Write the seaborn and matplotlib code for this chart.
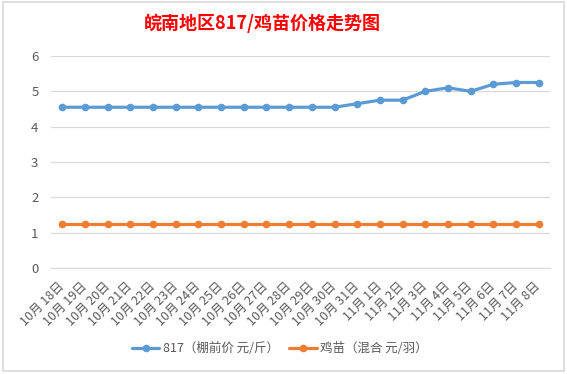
import pandas as pd
import seaborn as sns
import matplotlib.pyplot as plt
from matplotlib.patches import Rectangle
from matplotlib.ticker import FixedLocator

dates = ['10月 %d日' % d for d in range(18, 32)] + ['11月 %d日' % d for d in range(1, 9)]
price_817 = [4.55] * 13 + [4.65, 4.75, 4.75, 5.0, 5.1, 5.0, 5.2, 5.25, 5.25]
price_chick = [1.25] * 22
series_names = ['817（棚前价 元/斤）', '鸡苗（混合 元/羽）']

df = pd.concat([
    pd.DataFrame({'date': dates, 'price': price_817, 'series': series_names[0]}),
    pd.DataFrame({'date': dates, 'price': price_chick, 'series': series_names[1]}),
])

sns.set_style('white')
plt.rcParams['font.family'] = ['Noto Sans CJK SC', 'DejaVu Sans']

grey = '#595959'
grid = '#D9D9D9'

fig = plt.figure(figsize=(5.67, 3.74), dpi=100)
ax = fig.add_axes([51 / 567, 1 - 268 / 374, (550 - 51) / 567, (268 - 56) / 374])

sns.lineplot(data=df, x='date', y='price', hue='series', sort=False,
             palette=['#5B9BD5', '#ED7D31'], marker='o', markersize=5.5,
             markeredgewidth=0, linewidth=2.3, ax=ax, legend=True)

ax.set_xlim(-0.5, len(dates) - 0.5)
ax.set_ylim(0, 6)
ax.set_yticks(range(7))
ax.yaxis.grid(True, color=grid, linewidth=0.9)
ax.set_xlabel('')
ax.set_ylabel('')
for s in ['top', 'right', 'left']:
    ax.spines[s].set_visible(False)
ax.spines['bottom'].set_color(grid)
ax.spines['bottom'].set_linewidth(0.9)

ax.set_xticks(range(len(dates)))
ax.set_xticklabels(dates, rotation=45, ha='right', va='center', rotation_mode='anchor',
                   fontsize=9, color=grey)
ax.tick_params(axis='x', which='major', length=0, pad=12)
ax.xaxis.set_minor_locator(FixedLocator([i - 0.5 for i in range(len(dates) + 1)]))
ax.tick_params(axis='x', which='minor', length=5, color=grid, width=0.9)
ax.tick_params(axis='y', length=0, pad=9, labelsize=9.5, labelcolor=grey)

handles, labels = ax.get_legend_handles_labels()
ax.get_legend().remove()
fig.legend(handles, labels, loc='center', bbox_to_anchor=(280 / 567, 1 - 349 / 374),
           ncol=2, frameon=False, fontsize=9, labelcolor=grey,
           handlelength=2.2, handletextpad=0.3, columnspacing=0.8)

fig.text(262 / 567, 1 - 23 / 374, '皖南地区817/鸡苗价格走势图', ha='center', va='center',
         fontsize=13, fontweight='bold', color='#FF0000')

fig.patches.append(Rectangle((3 / 567, 1 - 371 / 374), 561 / 567, 369 / 374,
                             transform=fig.transFigure, fill=False,
                             edgecolor=grid, linewidth=1.2))

fig.savefig('out.png', dpi=100)
